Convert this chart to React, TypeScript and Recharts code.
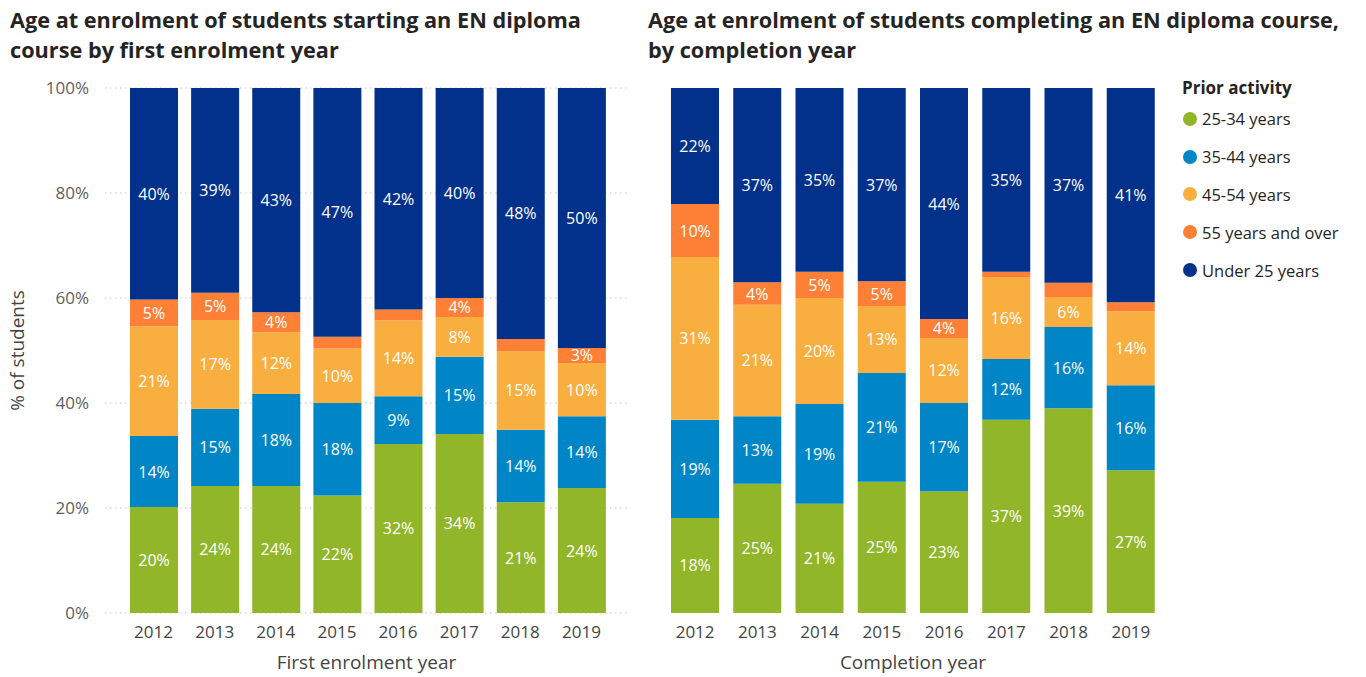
import { BarChart, Bar, XAxis, YAxis, CartesianGrid, LabelList } from "recharts";

const FONT = "'Segoe UI', 'Open Sans', sans-serif";

const years = ["2012", "2013", "2014", "2015", "2016", "2017", "2018", "2019"];

// first enrolment year (left)
const startU25 = [40.3, 39.0, 42.7, 47.4, 42.2, 40.0, 47.8, 49.5];
const start2534 = [20.2, 24.2, 24.2, 22.4, 32.2, 34.1, 21.1, 23.8];
const start3544 = [13.5, 14.7, 17.5, 17.6, 9.1, 14.7, 13.8, 13.7];
const start4554 = [20.9, 16.9, 11.8, 10.4, 14.4, 7.6, 15.0, 10.1];
const start55 = [5.1, 5.2, 3.8, 2.2, 2.1, 3.6, 2.3, 2.9];

// completion year (right)
const compU25 = [22.1, 37.0, 35.0, 36.8, 44.0, 35.0, 37.1, 40.8];
const comp2534 = [18.1, 24.6, 20.8, 25.0, 23.2, 36.8, 39.0, 27.2];
const comp3544 = [18.7, 12.9, 19.0, 20.7, 16.8, 11.6, 15.5, 16.2];
const comp4554 = [31.0, 21.2, 20.2, 12.8, 12.4, 15.6, 5.7, 14.1];
const comp55 = [10.1, 4.3, 5.0, 4.7, 3.6, 1.0, 2.7, 1.7];

const yTicks = [0, 20, 40, 60, 80, 100];

const series = [
  { key: "a2534", name: "25-34 years", color: "#92B629" },
  { key: "a3544", name: "35-44 years", color: "#0086C6" },
  { key: "a4554", name: "45-54 years", color: "#F9AE40" },
  { key: "a55", name: "55 years and over", color: "#FD8036" },
  { key: "u25", name: "Under 25 years", color: "#01318A" },
];

const leftRows = years.map((year, i) => ({
  year,
  a2534: start2534[i],
  a3544: start3544[i],
  a4554: start4554[i],
  a55: start55[i],
  u25: startU25[i],
}));

const rightRows = years.map((year, i) => ({
  year,
  a2534: comp2534[i],
  a3544: comp3544[i],
  a4554: comp4554[i],
  a55: comp55[i],
  u25: compU25[i],
}));

const renderLabel = (props: any) => {
  const { x, y, width, height, value } = props;
  if (value == null || value < 2.8) return null;
  return (
    <text
      x={x + width / 2}
      y={y + height / 2}
      fill="#ffffff"
      textAnchor="middle"
      dominantBaseline="central"
      fontSize={16}
      fontFamily={FONT}
    >
      {Math.round(value)}%
    </text>
  );
};

const axisTitle = (text: string) => (props: any) => {
  const vb = props.viewBox;
  return (
    <text
      x={vb.x + vb.width / 2}
      y={vb.y + vb.height - 8}
      textAnchor="middle"
      fontSize={19}
      fill="#444"
      fontFamily={FONT}
    >
      {text}
    </text>
  );
};

const yTitle = (props: any) => {
  const vb = props.viewBox;
  const cy = vb.y + vb.height / 2;
  return (
    <text
      x={24}
      y={cy}
      transform={`rotate(-90, 24, ${cy})`}
      textAnchor="middle"
      fontSize={19}
      fill="#444"
      fontFamily={FONT}
    >
      % of students
    </text>
  );
};

function Bars() {
  return series.map((s) => (
    <Bar key={s.key} dataKey={s.key} name={s.name} stackId="a" fill={s.color} barSize={48} isAnimationActive={false}>
      <LabelList dataKey={s.key} content={renderLabel} />
    </Bar>
  ));
}

const titleStyle: React.CSSProperties = {
  position: "absolute",
  top: 5,
  fontFamily: FONT,
  fontWeight: 700,
  fontSize: 21.7,
  lineHeight: "30px",
  color: "#252423",
};

export default function App() {
  return (
    <div style={{ position: "absolute", left: 0, top: 0, width: 1366, height: 677, background: "#fff", fontFamily: FONT }}>
      <div style={{ ...titleStyle, left: 10 }}>
        Age at enrolment of students starting an EN diploma
        <br />
        course by first enrolment year
      </div>
      <div style={{ ...titleStyle, left: 648 }}>
        Age at enrolment of students completing an EN diploma course,
        <br />
        by completion year
      </div>

      <div style={{ position: "absolute", left: 0, top: 0 }}>
        <BarChart width={640} height={677} data={leftRows} margin={{ top: 88, right: 12, bottom: 0, left: 0 }}>
          <CartesianGrid vertical={false} stroke="#c8c6c4" strokeDasharray="1.5 3.5" />
          <XAxis
            dataKey="year"
            height={64}
            padding={{ left: 18, right: 16 }}
            axisLine={false}
            tickLine={false}
            tickMargin={7}
            tick={{ fontSize: 17, fill: "#444", fontFamily: FONT }}
            label={{ content: axisTitle("First enrolment year") }}
          />
          <YAxis
            width={105}
            domain={[0, 100]}
            ticks={yTicks}
            tickFormatter={(v: number) => `${v}%`}
            axisLine={false}
            tickLine={false}
            tickMargin={10}
            tick={{ fontSize: 17, fill: "#605E5C", fontFamily: FONT }}
            label={{ content: yTitle }}
          />
          {Bars()}
        </BarChart>
      </div>

      <div style={{ position: "absolute", left: 640, top: 0 }}>
        <BarChart width={726} height={677} data={rightRows} margin={{ top: 88, right: 204, bottom: 0, left: 24 }}>
          <XAxis
            dataKey="year"
            height={64}
            axisLine={false}
            tickLine={false}
            tickMargin={7}
            tick={{ fontSize: 17, fill: "#444", fontFamily: FONT }}
            label={{ content: axisTitle("Completion year") }}
          />
          <YAxis hide domain={[0, 100]} ticks={yTicks} />
          {Bars()}
        </BarChart>
      </div>

      <div style={{ position: "absolute", left: 1182, top: 76, color: "#252423" }}>
        <div style={{ fontWeight: 700, fontSize: 17, lineHeight: "24px" }}>Prior activity</div>
        {series.map((s) => (
          <div key={s.key} style={{ display: "flex", alignItems: "center", height: 37.8, fontSize: 16.5 }}>
            <span style={{ width: 14, height: 14, borderRadius: 7, background: s.color, marginLeft: 1, marginRight: 5 }} />
            {s.name}
          </div>
        ))}
      </div>
    </div>
  );
}
